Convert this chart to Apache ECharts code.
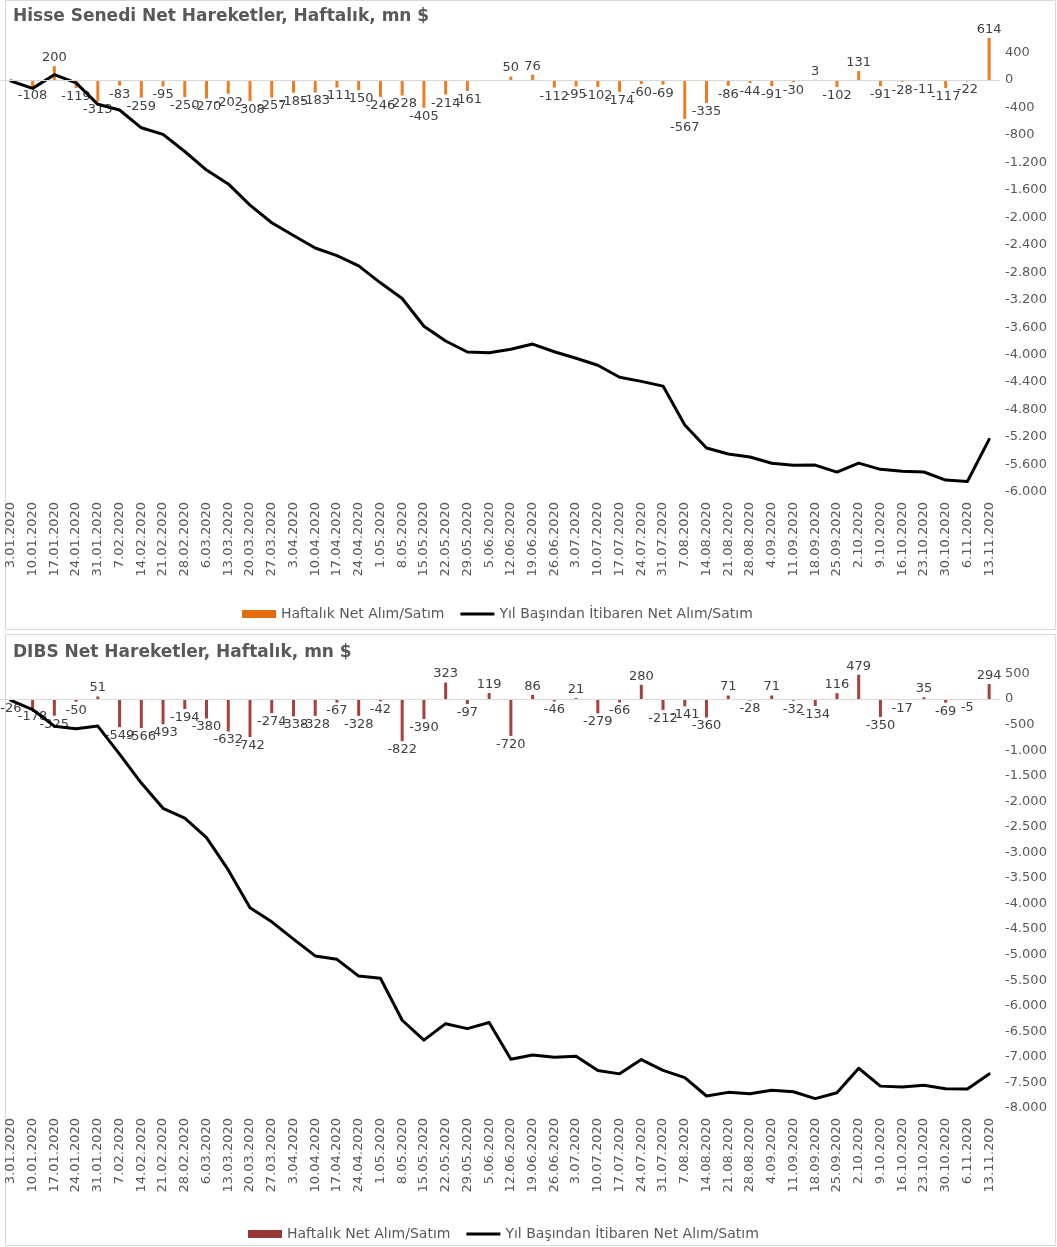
<!DOCTYPE html>
<html>
<head>
<meta charset="utf-8">
<script src="https://cdn.jsdelivr.net/npm/echarts@6/dist/echarts.min.js"></script>
<style>
  body { margin: 0; background: #fff; }
  #hisseChart { position: absolute; left: 0; top: 0; width: 1057px; height: 632px; }
  #dibsChart { position: absolute; left: 0; top: 634px; width: 1057px; height: 613px; }
</style>
</head>
<body>
<div id="hisseChart"></div>
<div id="dibsChart"></div>
<script>
// Weekly net flows, mn $
const dates = ['3.01.2020', '10.01.2020', '17.01.2020', '24.01.2020', '31.01.2020', '7.02.2020', '14.02.2020',
  '21.02.2020', '28.02.2020', '6.03.2020', '13.03.2020', '20.03.2020', '27.03.2020', '3.04.2020', '10.04.2020',
  '17.04.2020', '24.04.2020', '1.05.2020', '8.05.2020', '15.05.2020', '22.05.2020', '29.05.2020', '5.06.2020',
  '12.06.2020', '19.06.2020', '26.06.2020', '3.07.2020', '10.07.2020', '17.07.2020', '24.07.2020', '31.07.2020',
  '7.08.2020', '14.08.2020', '21.08.2020', '28.08.2020', '4.09.2020', '11.09.2020', '18.09.2020', '25.09.2020',
  '2.10.2020', '9.10.2020', '16.10.2020', '23.10.2020', '30.10.2020', '6.11.2020', '13.11.2020'];

const hisseWeekly = [-15, -108, 200, -119, -313, -83, -259, -95, -250, -270, -202, -308, -257, -185, -183, -111,
  -150, -246, -228, -405, -214, -161, -10, 50, 76, -112, -95, -102, -174, -60, -69, -567, -335, -86, -44, -91,
  -30, 3, -102, 131, -91, -28, -11, -117, -22, 614];
const hisseCumulative = [-15, -123, 77, -42, -355, -438, -697, -792, -1042, -1312, -1514, -1822, -2079, -2264,
  -2447, -2558, -2708, -2954, -3182, -3587, -3801, -3962, -3972, -3922, -3846, -3958, -4053, -4155, -4329, -4389,
  -4458, -5025, -5360, -5446, -5490, -5581, -5611, -5608, -5710, -5579, -5670, -5698, -5709, -5826, -5848, -5234];
const hisseNoLabel = [0, 22];

const dibsWeekly = [-26, -178, -325, -50, 51, -549, -566, -493, -194, -380, -632, -742, -274, -338, -328, -67,
  -328, -42, -822, -390, 323, -97, 119, -720, 86, -46, 21, -279, -66, 280, -212, -141, -360, 71, -28, 71, -32,
  -134, 116, 479, -350, -17, 35, -69, -5, 294];
const dibsCumulative = [-26, -204, -529, -579, -528, -1077, -1643, -2136, -2330, -2710, -3342, -4084, -4358,
  -4696, -5024, -5091, -5419, -5461, -6283, -6673, -6350, -6447, -6328, -7048, -6962, -7008, -6987, -7266, -7332,
  -7052, -7264, -7405, -7765, -7694, -7722, -7651, -7683, -7817, -7701, -7222, -7572, -7589, -7554, -7623, -7628,
  -7333];
const dibsNoLabel = [];

const weeklyName = 'Haftalık Net Alım/Satım';
const cumulativeName = 'Yıl Başından İtibaren Net Alım/Satım';
const FONT = 'DejaVu Sans';
const GRAY = '#595959';
// thin line icon for the legend (move points keep the full icon box)
const LINE_ICON = 'path://M0,0M34,8M0,2.5H34V5.5H0Z';

function fmt(v) {
  const s = String(Math.abs(v)).replace(/\B(?=(\d{3})+(?!\d))/g, '.');
  return (v < 0 ? '-' : '') + s;
}

function buildOption(cfg) {
  const last = cfg.cumulative.length - 1;
  return {
    animation: false,
    textStyle: { fontFamily: FONT },
    title: {
      text: cfg.title, left: 8, top: cfg.titleTop,
      textStyle: { fontFamily: FONT, fontSize: 17, fontWeight: 'bold', color: GRAY }
    },
    graphic: [{
      type: 'rect', silent: true,
      shape: { x: 5.5, y: 0.5, width: 1050, height: cfg.boxHeight },
      style: { fill: 'none', stroke: '#D9D9D9', lineWidth: 1 }
    }],
    legend: {
      left: cfg.legendLeft, top: cfg.legendTop, itemGap: 16,
      textStyle: { fontFamily: FONT, fontSize: 14, color: GRAY },
      data: [
        { name: weeklyName, icon: 'rect', itemStyle: { color: cfg.legendColor } },
        { name: cumulativeName, icon: LINE_ICON, itemStyle: { color: '#000' } }
      ],
      itemWidth: 34, itemHeight: 8
    },
    grid: { left: 0, right: 57, top: cfg.gridTop, height: cfg.gridHeight },
    xAxis: {
      type: 'category', data: dates, boundaryGap: true,
      axisLine: { show: false }, axisTick: { show: false },
      axisLabel: { interval: 0, rotate: 90, fontSize: 13, color: GRAY, margin: 10, fontFamily: FONT }
    },
    yAxis: {
      type: 'value', position: 'right',
      min: cfg.min, max: cfg.max, interval: cfg.interval,
      splitLine: { show: false }, axisLine: { show: false }, axisTick: { show: false },
      axisLabel: { showMaxLabel: false, fontSize: 13, color: GRAY, margin: 5, formatter: fmt, fontFamily: FONT }
    },
    series: [
      {
        name: weeklyName, type: 'bar', barWidth: 3,
        itemStyle: { color: cfg.barColor },
        label: { fontSize: 13, color: '#404040', distance: 2, formatter: p => fmt(p.value), fontFamily: FONT },
        data: cfg.weekly.map((v, i) => ({
          value: v,
          label: { show: !cfg.noLabel.includes(i), position: v >= 0 ? 'top' : 'bottom' }
        })),
        markLine: {
          silent: true, symbol: ['none', 'none'], label: { show: false },
          lineStyle: { color: '#D9D9D9', type: 'solid', width: 1 },
          data: [{ yAxis: 0 }]
        }
      },
      {
        name: cumulativeName, type: 'line', showSymbol: false, symbol: 'none',
        itemStyle: { color: '#000' },
        lineStyle: { color: '#000', width: 3, cap: 'round', join: 'round' },
        data: cfg.cumulative.map((v, i) => i === last ? {
          value: v,
          label: {
            show: true, position: 'top', offset: [-10, -2], color: '#FF0000', fontSize: 14,
            formatter: p => fmt(p.value), fontFamily: FONT
          }
        } : v)
      }
    ]
  };
}

const hisseChart = echarts.init(document.getElementById('hisseChart'));
hisseChart.setOption(buildOption({
  title: 'Hisse Senedi Net Hareketler, Haftalık, mn $', titleTop: 3,
  boxHeight: 629, legendLeft: 237, legendTop: 602, legendColor: '#E46C0A',
  gridTop: 25, gridHeight: 467, min: -6000, max: 800, interval: 400,
  weekly: hisseWeekly, cumulative: hisseCumulative, noLabel: hisseNoLabel, barColor: '#EE7D22'
}));

const dibsChart = echarts.init(document.getElementById('dibsChart'));
dibsChart.setOption(buildOption({
  title: 'DIBS Net Hareketler, Haftalık, mn $', titleTop: 5,
  boxHeight: 611, legendLeft: 243, legendTop: 588, legendColor: '#953735',
  gridTop: 14, gridHeight: 460, min: -8000, max: 1000, interval: 500,
  weekly: dibsWeekly, cumulative: dibsCumulative, noLabel: dibsNoLabel, barColor: '#A5403E'
}));
</script>
</body>
</html>
